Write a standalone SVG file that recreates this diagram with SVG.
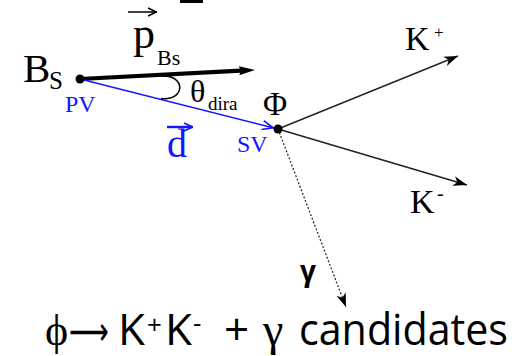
<svg xmlns="http://www.w3.org/2000/svg" width="525" height="356" viewBox="0 0 525 356">
<style>
.serif{font-family:"Liberation Serif","DejaVu Serif",serif}
.sans{font-family:"Open Sans","Noto Sans","Liberation Sans",sans-serif}
.blue{fill:#1414ff}
.k{fill:#000}
</style>
<defs>
<marker id="ah" viewBox="0 0 14 10" markerWidth="14" markerHeight="10" refX="14" refY="5" orient="auto" markerUnits="userSpaceOnUse">
<path d="M0,0 L14,5 L0,10 L4,5 Z" fill="#000"/>
</marker>
<marker id="ahThick" viewBox="0 0 16 10" markerWidth="16" markerHeight="10" refX="2" refY="5" orient="auto" markerUnits="userSpaceOnUse">
<path d="M0,0.5 L16,5 L0,9.5 L2,5 Z" fill="#000"/>
</marker>
<marker id="ahBlue" viewBox="0 0 16 10" markerWidth="16" markerHeight="10" refX="16" refY="5" orient="auto" markerUnits="userSpaceOnUse">
<path d="M0,0.5 L11,5 L0,9.5" fill="none" stroke="#1414ff" stroke-width="1.6"/>
</marker>
<marker id="vecK" viewBox="0 0 10 10" markerWidth="10" markerHeight="10" refX="10" refY="5" orient="auto" markerUnits="userSpaceOnUse">
<path d="M1,1 L9.5,5 L1,9" fill="none" stroke="#000" stroke-width="1.5"/>
</marker>
<marker id="vecB" viewBox="0 0 10 10" markerWidth="10" markerHeight="10" refX="10" refY="5" orient="auto" markerUnits="userSpaceOnUse">
<path d="M1,1 L9.5,5 L1,9" fill="none" stroke="#1414ff" stroke-width="1.8"/>
</marker>
</defs>

<rect x="180" y="0" width="23" height="3" fill="#000"/>

<g id="connectors">
<line id="pBs" x1="80" y1="79" x2="241" y2="70.7" stroke="#000" stroke-width="4.2" marker-end="url(#ahThick)"/>
<line id="dvec" x1="80" y1="79" x2="278" y2="129" stroke="#1414ff" stroke-width="1.4" marker-end="url(#ahBlue)"/>
<line id="kplus" x1="278" y1="129" x2="458" y2="56" stroke="#222" stroke-width="1.4" marker-end="url(#ah)"/>
<line id="kminus" x1="278" y1="129" x2="467" y2="185" stroke="#222" stroke-width="1.4" marker-end="url(#ah)"/>
<line id="gamma" x1="278" y1="129" x2="346" y2="307" stroke="#333" stroke-width="1.3" stroke-dasharray="2 1.8" marker-end="url(#ah)"/>
<path id="theta-arc" d="M161,76 C186,74 186,101 161,98.5" fill="none" stroke="#000" stroke-width="1.5"/>
</g>

<g id="PV">
<circle cx="80" cy="79" r="4.5" fill="#000"/>
<text class="serif k" x="23" y="82" font-size="41">B</text>
<text class="serif k" x="49" y="89" font-size="25">S</text>
<text class="serif blue" x="65" y="112" font-size="24">PV</text>
</g>

<g id="pBs-label">
<line x1="128" y1="12" x2="157" y2="12" stroke="#000" stroke-width="1.5" marker-end="url(#vecK)"/>
<text class="serif k" x="133" y="48" font-size="44">p</text>
<text class="serif k" x="157" y="65" font-size="22">Bs</text>
</g>

<g id="theta-label">
<text class="serif k" x="190" y="102" font-size="32">θ</text>
<text class="serif k" x="208" y="110" font-size="19">dira</text>
</g>

<g id="d-label">
<line x1="167" y1="127" x2="193" y2="127" stroke="#1414ff" stroke-width="2.4" marker-end="url(#vecB)"/>
<text class="serif blue" x="167" y="157" font-size="40">d</text>
</g>

<g id="SV">
<circle cx="278" cy="129" r="4.5" fill="#000"/>
<text class="serif k" x="263" y="115" font-size="33">Φ</text>
<text class="serif blue" x="237" y="152" font-size="24">SV</text>
</g>

<g id="Kplus">
<text class="serif k" x="405" y="50" font-size="34">K</text>
<text class="serif k" x="434" y="38" font-size="17">+</text>
</g>

<g id="Kminus">
<text class="serif k" x="410" y="213" font-size="34">K</text>
<text class="serif k" x="437" y="200" font-size="20">-</text>
</g>

<g id="gamma-label">
<text class="sans k" x="300" y="281" font-size="28" font-weight="bold">γ</text>
</g>

<g id="caption">
<text class="serif k" y="345" font-size="44"><tspan x="45">ϕ</tspan><tspan x="69" font-family="DejaVu Sans,sans-serif" font-size="40" textLength="40" lengthAdjust="spacingAndGlyphs">⟶</tspan><tspan class="sans" x="118">K</tspan><tspan class="sans" x="147" y="334" font-size="26">+</tspan><tspan class="sans" x="165" y="345">K</tspan><tspan class="sans" x="193" y="332" font-size="26">-</tspan><tspan class="sans" x="224" y="345">+</tspan><tspan x="263" font-size="46">γ</tspan><tspan class="sans" x="299" textLength="209" lengthAdjust="spacingAndGlyphs">candidates</tspan></text>
</g>
</svg>
